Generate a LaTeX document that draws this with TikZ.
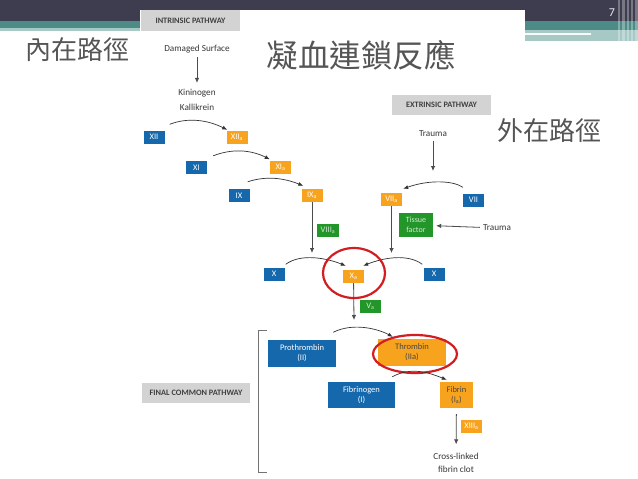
\documentclass[tikz,border=0pt]{standalone}
\usepackage{fontspec}
\setmainfont{Carlito}
\newfontfamily\cjk{Noto Sans CJK TC}
\usetikzlibrary{arrows.meta}
\definecolor{cblue}{RGB}{22,104,172}
\definecolor{corange}{RGB}{247,163,30}
\definecolor{cgreen}{RGB}{34,150,40}
\definecolor{cgray}{RGB}{211,211,211}
\definecolor{cdark}{RGB}{62,61,79}
\definecolor{cteal}{RGB}{77,139,135}
\definecolor{clteal}{RGB}{166,201,198}
\definecolor{cred}{RGB}{210,30,35}
\definecolor{ctext}{RGB}{55,55,55}
\definecolor{ccjk}{RGB}{85,85,85}
\begin{document}
\begin{tikzpicture}[x=1pt,y=-1pt,
  lbl/.style={font=\fontsize{9.2}{12.5}\selectfont, text=ctext, inner sep=0pt, align=center},
  box/.style={font=\fontsize{8.5}{10}\selectfont, inner sep=0pt, text=white, minimum height=13pt, minimum width=21pt, align=center},
  bbox/.style={box, fill=cblue},
  obox/.style={box, fill=corange},
  gbox/.style={box, fill=cgreen, text=white!80!cgreen},
  hdr/.style={fill=cgray, inner sep=0pt, font=\fontsize{8.3}{9}\selectfont\bfseries, text=black!75},
  arr/.style={draw=black!80, line width=0.7pt, -{Latex[length=5pt,width=4pt]}},
  varr/.style={draw=black!70, line width=0.8pt, -{Latex[length=5pt,width=4.5pt]}},
  ring/.style={draw=cred, line width=2.2pt},
  cjkt/.style={font=\cjk\fontsize{26}{28}\selectfont, text=ccjk, inner sep=0pt}
]
\useasboundingbox (0,0) rectangle (638,479);
\fill[white] (0,0) rectangle (638,479);
% slide header
\fill[cdark] (0,0) rectangle (638,21);
\fill[cteal] (0,21) rectangle (638,28);
\fill[clteal] (0,28) rectangle (638,31);
\fill[cteal] (525,21) rectangle (638,30);
\fill[clteal] (525,30) rectangle (638,41);
\fill[white!90!clteal] (525,33) rectangle (591,35);
\foreach \sx/\sw in {618/2,622/3,627/2,631/2,635/3}
  \fill[white, opacity=0.3] (\sx,0) rectangle (\sx+\sw,43);
\fill[white] (140,10) rectangle (525,479);
\node[text=white!92!black, font=\fontsize{12}{13}\selectfont, inner sep=0pt] (pg) at (612,13) {7};
% Chinese titles
\node[cjkt] (t1) at (78,50) {內在路徑};
\node[cjkt, font=\cjk\fontsize{31.5}{33}\selectfont] (t2) at (361,55) {凝血連鎖反應};
\node[cjkt] (t3) at (549,131) {外在路徑};
% intrinsic
\node[hdr, minimum width=99pt, minimum height=21pt] (intr) at (190.5,20.5) {INTRINSIC PATHWAY};
\node[lbl] (dmg) at (197,49) {Damaged Surface};
\node[lbl] (kin) at (197,93) {Kininogen};
\node[lbl] (kal) at (197,107) {Kallikrein};
\draw[varr, shorten <=4pt, shorten >=6pt] (dmg) -- (kin);
\node[bbox] (xii) at (154,137) {XII};
\node[obox] (xiia) at (237,137.5) {XII\textsubscript{a}};
\node[bbox] (xi) at (196.5,167.5) {XI};
\node[obox] (xia) at (280.5,167) {XI\textsubscript{a}};
\node[bbox] (ix) at (239,195.5) {IX};
\node[obox] (ixa) at (312,195.5) {IX\textsubscript{a}};
\draw[arr] ([shift={(5,-6)}]xii.north east) .. controls +(18,-7) and +(-20,-10) .. ([shift={(1,-1)}]xiia.north west);
\draw[arr] ([shift={(6,-5)}]xi.north east) .. controls +(18,-7) and +(-20,-10) .. ([shift={(0,-1)}]xia.north west);
\draw[arr] ([shift={(-2,-7)}]ix.north east) .. controls +(18,-6) and +(-20,-8) .. ([shift={(2,-3)}]ixa.north west);
\coordinate (ixend) at (312,253);
\draw[varr] (ixa) -- (ixend);
\node[gbox, minimum width=22pt] (viiia) at (328,230.5) {VIII\textsubscript{a}};
% extrinsic
\node[hdr, minimum width=99pt, minimum height=20pt] (extr) at (441.5,105) {EXTRINSIC PATHWAY};
\node[lbl] (tr1) at (433,134) {Trauma};
\coordinate (tr1end) at (433,171);
\draw[varr, shorten <=4pt] (tr1) -- (tr1end);
\node[obox] (viia) at (391.5,199.5) {VII\textsubscript{a}};
\node[bbox] (vii) at (473.5,200) {VII};
\draw[arr] ([shift={(0,-6)}]vii.north west) .. controls +(-10,-7) and +(25,-9) .. ([shift={(1,-4)}]viia.north east);
\node[gbox, minimum width=34pt, minimum height=24pt, font=\fontsize{8}{9.5}\selectfont] (tis) at (416,225) {Tissue\\factor};
\node[lbl] (tr2) at (497,228) {Trauma};
\draw[varr, shorten <=3pt, shorten >=3pt] (tr2) -- (tis);
\coordinate (viiaend) at (391.5,253);
\draw[varr] (viia) -- (viiaend);
% X level
\node[bbox] (xl) at (274,274) {X};
\node[obox] (xa) at (353.5,276.5) {X\textsubscript{a}};
\node[bbox] (xr) at (434,274) {X};
\draw[arr] ([shift={(1,-3)}]xl.north east) .. controls +(15,-11) and +(-20,-8) .. ([shift={(3,-4)}]xa.north west);
\draw[arr] ([shift={(-1,-3)}]xr.north west) .. controls +(-15,-11) and +(20,-8) .. ([shift={(-1,-4)}]xa.north east);
\draw[ring] (354,273) ellipse [x radius=31pt, y radius=25pt];
\coordinate (xaend) at (354,320);
\draw[varr] (xa) -- (xaend);
\node[gbox] (va) at (370.5,306.5) {V\textsubscript{a}};
% final common pathway
\node[hdr, minimum width=108pt, minimum height=20pt] (fcp) at (196,393) {FINAL COMMON PATHWAY};
\draw[black!55, line width=0.8pt] (267,330) -- (258,330) -- (258,472) -- (267,472);
\node[bbox, minimum width=68pt, minimum height=27pt] (pro) at (302,353) {Prothrombin\\(II)};
\node[obox, minimum width=68pt, minimum height=27pt, text=black!72] (thr) at (412,352.5) {Thrombin\\(IIa)};
\draw[ring] (415,354) ellipse [x radius=42pt, y radius=19pt];
\draw[arr] ([shift={(-3,-7)}]pro.north east) .. controls +(20,-10) and +(-15,-8) .. ([shift={(15,-2)}]thr.north west);
\node[bbox, minimum width=67pt, minimum height=26pt] (fgn) at (361.5,395) {Fibrinogen\\(I)};
\node[obox, minimum width=33pt, minimum height=26pt, text=black!72] (fib) at (456.5,395) {Fibrin\\(I\textsubscript{a})};
\draw[arr] ([shift={(-3,-5)}]fgn.north east) .. controls +(20,-11) and +(-15,-6) .. ([shift={(7,-2)}]fib.north west);
\node[lbl] (clot) at (456,463) {Cross-linked\\fibrin clot};
\draw[varr, shorten <=6pt, shorten >=9pt] (fib) -- (clot);
\node[obox] (xiiia) at (471.5,426.5) {XIII\textsubscript{a}};
\end{tikzpicture}
\end{document}
